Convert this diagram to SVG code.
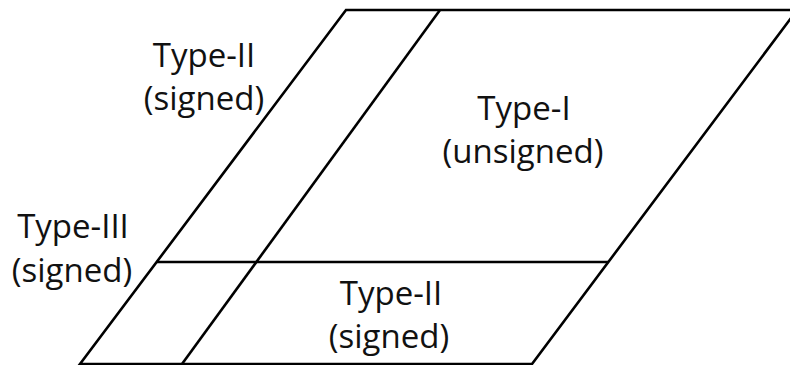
<svg xmlns="http://www.w3.org/2000/svg" width="790" height="365" viewBox="0 0 790 365">
  <style>
    .edge { fill: none; stroke: #000; stroke-width: 2.6; stroke-linecap: butt; }
    .lbl { font-family: "Open Sans", "Noto Sans", sans-serif; font-size: 33px; fill: #111; text-anchor: middle; }
  </style>
  <rect width="790" height="365" fill="#fff"/>

  <!-- outline of the parallelogram and its dividing lines -->
  <g id="connectors">
    <polygon class="edge" points="346,10 797,10 532,364 80,364"/>
    <line class="edge" x1="440" y1="10" x2="182" y2="364"/>
    <line class="edge" x1="157" y1="262" x2="608" y2="262"/>
  </g>

  <g id="type-ii-top">
    <text class="lbl" x="204" y="67">Type-II</text>
    <text class="lbl" x="204" y="110">(signed)</text>
  </g>

  <g id="type-i">
    <text class="lbl" x="524" y="120">Type-I</text>
    <text class="lbl" x="523" y="163">(unsigned)</text>
  </g>

  <g id="type-iii">
    <text class="lbl" x="73" y="238">Type-III</text>
    <text class="lbl" x="72" y="282">(signed)</text>
  </g>

  <g id="type-ii-bottom">
    <text class="lbl" x="391" y="305">Type-II</text>
    <text class="lbl" x="389" y="348">(signed)</text>
  </g>
</svg>
